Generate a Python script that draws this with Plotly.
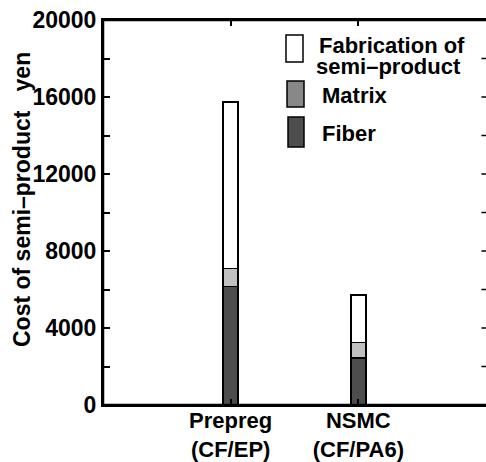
import plotly.graph_objects as go

categories = ["Prepreg<br>(CF/EP)", "NSMC<br>(CF/PA6)"]
positions = [1, 2]
fiber = [6150, 2430]
matrix = [950, 810]
fabrication = [8650, 2490]
y_tickvals = list(range(0, 20001, 2000))
y_ticktext = [str(v) if v % 4000 == 0 else "" for v in y_tickvals]

FONT = "Liberation Sans, Arial, sans-serif"
TICK = dict(family=FONT, size=23, color="black", weight="bold")
XTICK = dict(family=FONT, size=22, color="black", weight="bold")
TITLE = dict(family=FONT, size=23, color="black", weight="bold")

fig = go.Figure()
bar_w = 0.118
line = dict(color="black", width=1.6)
fig.add_trace(go.Bar(x=positions, y=fiber, width=bar_w, marker=dict(color="#4d4d4d", line=line), name="Fiber"))
fig.add_trace(go.Bar(x=positions, y=matrix, width=bar_w, marker=dict(color="#c0c0c0", line=line), name="Matrix"))
fig.add_trace(go.Bar(x=positions, y=fabrication, width=bar_w, marker=dict(color="white", line=line), name="Fabrication"))

fig.update_layout(
    width=486, height=462,
    margin=dict(l=103, r=0, t=20, b=57, autoexpand=False),
    barmode="stack", showlegend=False,
    plot_bgcolor="white", paper_bgcolor="white",
    font=TICK,
    xaxis=dict(range=[0, 3], tickvals=positions, ticktext=categories,
               ticks="inside", ticklen=6, tickwidth=1.5, tickcolor="black",
               showline=True, linecolor="black", linewidth=2, mirror="ticks",
               showgrid=False, zeroline=False, tickfont=XTICK, automargin=False,
               ticklabelstandoff=-5),
    yaxis=dict(range=[0, 20000], tickvals=y_tickvals, ticktext=y_ticktext,
               ticks="inside", ticklen=7, tickwidth=1.5, tickcolor="black",
               showline=True, linecolor="black", linewidth=2, mirror=False,
               showgrid=False, zeroline=False, tickfont=TICK, automargin=False),
)

# frame lines: left axis and top border (no right border in the reference)
frame = dict(color="black", width=2.5)
fig.add_shape(type="line", xref="paper", yref="paper", x0=0, x1=0, y0=0, y1=1, line=frame, layer="above")
fig.add_shape(type="line", xref="paper", yref="paper", x0=0, x1=1, y0=1, y1=1, line=frame, layer="above")
fig.add_shape(type="line", xref="paper", yref="paper", x0=0, x1=1, y0=0, y1=0, line=frame, layer="above")

# right-side tick marks
for v in y_tickvals[1:]:
    fig.add_shape(type="line", xref="paper", yref="y", x0=0.988, x1=1.0, y0=v, y1=v,
                  line=dict(color="black", width=1.5))

W, H = 486, 462
L, R, T, B = 103, 0, 20, 57
pw, ph = W - L - R, H - T - B
def px(x):
    return (x - L) / pw
def py(y):
    return (H - B - y) / ph

fig.add_annotation(text="Cost of semi–product\u00a0\u00a0 yen", xref="paper", yref="paper",
                   x=px(22), y=py(200), textangle=-90, xanchor="center", yanchor="middle",
                   showarrow=False, font=TITLE)

legend_items = [
    ("white", 286, 303, 35, 62),
    ("#888888", 287, 304, 81, 107),
    ("#4d4d4d", 288, 304, 117, 147),
]
for color, x0, x1, y0, y1 in legend_items:
    fig.add_shape(type="rect", xref="paper", yref="paper",
                  x0=px(x0), x1=px(x1), y0=py(y1), y1=py(y0),
                  fillcolor=color, line=dict(color="black", width=1.5))

LEG = dict(family=FONT, size=22, color="black", weight="bold")
texts = [
    ("Fabrication of", 318, 45),
    ("semi–product", 315, 66),
    ("Matrix", 321, 96),
    ("Fiber", 321, 133),
]
for t, lx, cy in texts:
    fig.add_annotation(text=t, xref="paper", yref="paper", x=px(lx), y=py(cy),
                       xanchor="left", yanchor="middle", showarrow=False, font=LEG,
                       borderpad=0)

fig.write_html("out.html")
